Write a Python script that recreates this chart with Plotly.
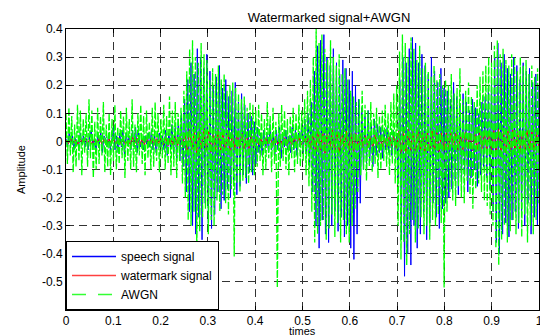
import numpy as np
import plotly.graph_objects as go

# speech signal samples (300 samples over 0..1 s)
speech = [
    0.01,-0.02,0.03,-0.01,0.02,-0.03,0.01,0.00,-0.02,0.03,-0.01,0.02,-0.02,0.01,-0.03,0.02,0.04,-0.02,0.01,-0.03,
    0.02,-0.01,0.03,-0.04,0.02,0.01,-0.02,0.03,-0.03,0.02,0.05,-0.03,0.02,-0.04,0.03,-0.02,0.04,-0.05,0.03,-0.01,
    0.02,-0.03,0.04,-0.02,0.05,-0.04,0.03,-0.02,0.01,-0.03,0.02,-0.01,0.03,-0.02,0.04,-0.03,0.02,-0.04,0.01,0.03,
    -0.02,0.02,-0.03,0.04,-0.05,0.03,-0.02,0.06,-0.04,0.05,-0.06,0.08,-0.07,0.10,-0.09,
    0.15,-0.18,0.22,-0.25,0.28,-0.30,0.24,-0.33,0.33,-0.27,0.30,-0.35,0.26,-0.22,0.31,-0.29,0.25,-0.31,0.20,-0.26,
    0.23,-0.18,0.27,-0.24,0.19,-0.21,0.22,-0.17,0.16,-0.20,0.18,-0.15,0.21,-0.19,0.14,-0.16,0.17,-0.12,0.13,-0.15,
    0.10,-0.11,0.09,-0.12,0.07,-0.08,
    0.05,-0.04,0.03,-0.05,0.04,-0.02,0.03,-0.04,0.06,-0.03,0.02,-0.05,0.04,-0.03,0.05,-0.06,0.03,-0.02,0.04,-0.03,
    0.02,-0.04,0.05,-0.03,0.04,-0.05,0.03,-0.02,0.06,-0.04,0.08,-0.06,0.10,-0.09,0.14,
    -0.18,0.25,-0.30,0.34,-0.38,0.36,-0.28,0.38,-0.33,0.30,-0.36,0.27,-0.30,0.33,-0.25,0.28,-0.32,0.24,-0.27,0.29,
    -0.34,0.26,-0.30,0.22,-0.38,0.25,-0.42,0.20,-0.33,0.15,-0.22,
    0.12,-0.10,0.09,-0.08,0.11,-0.07,0.06,-0.09,0.08,-0.05,0.06,-0.04,0.05,-0.06,0.04,-0.03,0.05,-0.04,0.03,-0.05,0.04,-0.03,0.02,
    -0.15,0.22,-0.35,0.30,-0.48,0.28,-0.40,0.33,-0.44,0.37,-0.30,0.35,-0.38,0.28,-0.33,0.31,-0.26,0.27,-0.35,0.24,
    -0.29,0.30,-0.22,0.25,-0.27,0.21,-0.31,0.26,-0.24,0.19,-0.22,
    0.18,-0.20,0.15,-0.17,0.21,-0.14,0.16,-0.19,0.13,-0.15,0.17,-0.12,0.14,-0.18,0.11,-0.13,0.15,-0.10,0.12,-0.16,
    0.10,-0.12,0.14,-0.09,0.16,-0.13,0.19,-0.17,0.22,
    -0.25,0.30,-0.36,0.35,-0.40,0.28,-0.33,0.31,-0.29,0.26,-0.34,0.24,-0.28,0.30,-0.25,0.27,-0.31,0.22,-0.26,0.28,
    -0.30,0.25,-0.22,0.26,-0.33,0.21,-0.27,0.24,-0.30,0.20,
]

# watermark signal samples (200 samples over 0..1 s)
watermark = [
    0.005,-0.008,0.010,-0.006,0.004,-0.010,0.008,-0.005,0.012,-0.007,0.006,-0.011,0.009,-0.004,0.010,-0.008,0.007,-0.012,0.011,-0.006,
    0.008,-0.009,0.013,-0.007,0.010,-0.012,0.006,-0.010,0.014,-0.008,0.011,-0.013,0.009,-0.011,0.015,-0.010,0.012,-0.014,0.010,-0.009,
    0.016,-0.012,0.013,-0.015,0.011,-0.013,0.017,-0.014,0.020,-0.018,
    0.030,-0.035,0.042,-0.028,0.038,-0.040,0.033,-0.025,0.045,-0.032,0.036,-0.038,0.028,-0.030,0.040,-0.034,0.031,-0.027,0.035,-0.033,
    0.026,-0.030,0.033,-0.024,0.028,-0.026,0.022,-0.025,0.020,-0.018,
    0.015,-0.012,0.010,-0.014,0.012,-0.009,0.011,-0.013,0.014,-0.010,0.009,-0.012,0.013,-0.011,0.010,-0.014,0.012,-0.009,0.015,-0.013,
    0.018,-0.016,0.022,-0.025,
    0.035,-0.040,0.045,-0.032,0.038,-0.042,0.036,-0.030,0.040,-0.037,0.033,-0.039,0.041,-0.031,0.036,-0.034,0.030,-0.036,0.028,-0.026,
    0.025,-0.022,0.020,-0.024,0.018,-0.021,0.023,-0.017,0.020,-0.019,0.016,-0.020,0.018,-0.015,0.022,-0.024,
    0.038,-0.042,0.035,-0.040,0.044,-0.033,0.039,-0.036,0.041,-0.030,0.034,-0.038,0.032,-0.035,0.037,-0.031,0.033,-0.036,0.030,-0.032,
    0.030,-0.028,0.033,-0.025,0.029,-0.031,0.026,-0.030,0.032,-0.027,0.028,-0.033,0.025,-0.029,0.031,-0.026,0.034,-0.030,0.036,-0.033,
    0.040,-0.038,0.043,-0.035,0.039,-0.041,0.036,-0.037,0.042,-0.034,0.038,-0.040,0.035,-0.036,0.039,-0.033,0.037,-0.035,0.032,-0.030,
]

# noisy (watermarked + AWGN) samples (330 samples over 0..1 s)
awgn = [
    0.10,-0.08,0.12,-0.05,0.09,-0.11,0.06,-0.09,0.13,-0.07,0.11,-0.12,0.08,-0.04,0.10,-0.09,0.15,-0.06,0.11,-0.13,
    0.07,-0.10,0.12,-0.08,0.09,-0.05,0.14,-0.11,0.06,-0.09,0.10,-0.12,0.08,-0.07,0.13,-0.10,0.05,-0.08,0.11,-0.06,
    0.09,-0.13,0.12,-0.07,0.08,-0.10,0.15,-0.09,0.06,-0.11,0.10,-0.05,0.13,-0.08,0.09,-0.12,0.11,-0.06,0.07,-0.10,
    0.12,-0.09,0.14,-0.07,0.10,-0.11,0.08,-0.06,0.13,-0.10,0.09,-0.08,0.16,-0.12,0.11,-0.09,0.14,-0.13,0.10,-0.07,
    0.12,-0.15,0.18,
    -0.20,0.25,-0.28,0.33,-0.30,0.36,-0.25,0.30,-0.40,0.28,-0.32,0.35,-0.27,0.31,-0.24,0.29,-0.33,0.22,-0.28,0.26,
    -0.30,0.24,-0.21,0.27,-0.25,0.22,-0.19,0.24,-0.22,0.18,-0.26,0.20,-0.17,0.21,-0.41,0.19,-0.15,0.17,-0.18,0.15,
    -0.14,0.16,-0.13,0.12,-0.15,0.14,-0.11,0.13,-0.12,
    0.11,-0.09,0.13,-0.07,0.10,-0.12,0.08,-0.10,0.14,-0.06,0.09,-0.11,0.12,-0.08,0.07,-0.52,0.10,-0.09,0.13,-0.07,
    0.11,-0.10,0.08,-0.12,0.09,-0.06,0.12,-0.11,0.10,-0.08,0.13,-0.09,0.11,-0.07,0.15,-0.12,0.18,-0.16,0.22,
    -0.25,0.30,-0.36,0.40,-0.33,0.35,-0.30,0.38,-0.28,0.33,-0.35,0.29,-0.31,0.36,-0.26,0.30,-0.34,0.27,-0.29,0.31,
    -0.36,0.24,-0.28,0.26,-0.33,0.22,-0.36,0.18,-0.30,0.16,-0.24,0.14,-0.18,
    0.15,-0.12,0.18,-0.10,0.13,-0.14,0.11,-0.09,0.14,-0.11,0.10,-0.08,0.12,-0.13,0.09,-0.10,0.11,-0.07,0.13,-0.09,
    0.10,-0.12,0.14,-0.08,0.17,-0.15,0.20,
    -0.30,0.32,-0.42,0.38,-0.36,0.35,-0.44,0.30,-0.33,0.37,-0.28,0.33,-0.36,0.29,-0.31,0.34,-0.27,0.26,-0.33,0.28,
    -0.30,0.25,-0.35,0.23,-0.28,0.27,-0.30,0.22,-0.26,0.24,-0.29,0.20,-0.52,
    0.22,-0.25,0.20,-0.18,0.24,-0.21,0.17,-0.23,0.19,-0.16,0.26,-0.20,0.15,-0.22,0.18,-0.14,0.21,-0.19,0.16,-0.24,
    0.14,-0.17,0.20,-0.15,0.23,-0.18,0.25,-0.21,0.27,-0.23,0.30,-0.26,0.28,
    -0.30,0.34,-0.38,0.36,-0.44,0.31,-0.35,0.33,-0.30,0.29,-0.36,0.27,-0.32,0.31,-0.28,0.30,-0.33,0.25,-0.29,0.30,
    -0.34,0.27,-0.26,0.29,-0.36,0.24,-0.30,0.27,-0.33,0.23,-0.28,0.26,-0.22,
]

series_names = ["speech signal", "watermark signal", "AWGN"]
x_ticks = [0, 0.1, 0.2, 0.3, 0.4, 0.5, 0.6, 0.7, 0.8, 0.9, 1]
x_tick_labels = ["0", "0.1", "0.2", "0.3", "0.4", "0.5", "0.6", "0.7", "0.8", "0.9", "1"]
y_ticks = [0.4, 0.3, 0.2, 0.1, 0, -0.1, -0.2, -0.3, -0.4, -0.5]
y_tick_labels = ["0.4", "0.3", "0.2", "0.1", "0", "-0.1", "-0.2", "-0.3", "-0.4", "-0.5"]

t_speech = np.linspace(0, 1, len(speech))
t_wm = np.linspace(0, 1, len(watermark))
t_awgn = np.linspace(0, 1, len(awgn))

FONT = "Liberation Sans, Arial, sans-serif"
BLUE, RED, GREEN = "#0000ff", "#ff0000", "#00ff00"

fig = go.Figure()
# data traces (MATLAB draw order: speech, watermark, noisy)
fig.add_trace(go.Scatter(x=t_speech, y=speech, mode="lines", name=series_names[0], showlegend=False,
                         line=dict(color=BLUE, width=1)))
fig.add_trace(go.Scatter(x=t_wm, y=watermark, mode="lines", name=series_names[1], showlegend=False,
                         line=dict(color=RED, width=1)))
fig.add_trace(go.Scatter(x=t_awgn, y=awgn, mode="lines", name=series_names[2], showlegend=False,
                         line=dict(color=GREEN, width=1.3, dash="7px,2px")))
# legend entries
fig.add_trace(go.Scatter(x=[None], y=[None], mode="lines", name=series_names[0],
                         line=dict(color=BLUE, width=1.5)))
fig.add_trace(go.Scatter(x=[None], y=[None], mode="lines", name=series_names[1],
                         line=dict(color="#ff4040", width=1.5)))
fig.add_trace(go.Scatter(x=[None], y=[None], mode="lines", name=series_names[2],
                         line=dict(color="#33ff33", width=1.5, dash="14px,12px")))

axis_common = dict(
    showline=True, linecolor="black", linewidth=1, mirror="ticks",
    ticks="inside", ticklen=4, tickcolor="black",
    showgrid=True, gridcolor="#333333", griddash="8px,5px", gridwidth=1,
    zeroline=False, automargin=False, ticklabeloverflow="allow",
    tickfont=dict(family=FONT, size=12, color="black"),
)

fig.update_layout(
    width=540, height=336,
    margin=dict(l=66, r=1, t=29, b=26),
    paper_bgcolor="white", plot_bgcolor="white",
    title=dict(text="Watermarked signal+AWGN", x=0.556, xanchor="center", xref="paper",
               y=1 - 17 / 336, yanchor="middle", yref="container", automargin=False,
               font=dict(family=FONT, size=13, color="black")),
    xaxis=dict(range=[0, 1], tickvals=x_ticks, ticktext=x_tick_labels, **axis_common),
    yaxis=dict(range=[-0.6, 0.4], tickvals=y_ticks, ticktext=y_tick_labels,
               title=dict(text="Amplitude", font=dict(family=FONT, size=11, color="black"), standoff=14),
               **axis_common),
    legend=dict(x=0, y=0, xanchor="left", yanchor="bottom", bgcolor="white",
                bordercolor="black", borderwidth=1, font=dict(family=FONT, size=12, color="black"),
                tracegroupgap=0, itemwidth=44),
    showlegend=True,
    annotations=[dict(text="times", x=0.5, xref="paper", xanchor="center",
                      y=-28 / 281, yref="paper", yanchor="bottom", showarrow=False, borderpad=0,
                      font=dict(family=FONT, size=11, color="black"))],
)

fig.write_html("out.html", config={"displayModeBar": False},
               post_script="document.body.style.margin='0';document.body.style.overflow='hidden';")
